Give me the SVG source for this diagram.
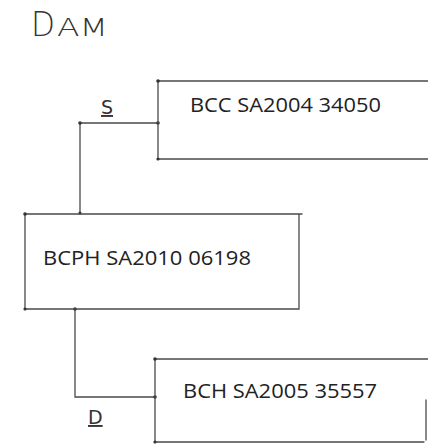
<svg xmlns="http://www.w3.org/2000/svg" width="428" height="446" viewBox="0 0 428 446">
<style>
.ln{fill:none;stroke:#4a4a4a;stroke-width:1.3;stroke-linecap:round}
.lbl{font-family:"Open Sans","Liberation Sans",Arial,sans-serif;font-size:20.5px;fill:#222}
.hand{font-family:"DejaVu Sans","Liberation Sans",sans-serif;fill:#333}
.dot{fill:#333}
</style>
<rect width="428" height="446" fill="#fff"/>
<g id="title">
<text class="hand" x="31" y="36" font-size="34" font-weight="300" textLength="24" lengthAdjust="spacingAndGlyphs">D</text>
<text class="hand" x="57" y="36" font-size="24" font-weight="300" textLength="51" lengthAdjust="spacingAndGlyphs">AM</text>
</g>
<g id="connectors">
<path class="ln" d="M158 123 H80 V213"/>
<path class="ln" d="M75 309 V397 H155"/>
<text class="hand" x="101" y="114" font-size="19" text-decoration="underline">S</text>
<text class="hand" x="88" y="424" font-size="19" text-decoration="underline">D</text>
<circle class="dot" cx="80" cy="123" r="1.8"/>
<circle class="dot" cx="158" cy="123" r="1.8"/>
<circle class="dot" cx="80" cy="213" r="1.6"/>
<circle class="dot" cx="75" cy="309" r="1.8"/>
<circle class="dot" cx="155" cy="397" r="1.8"/>
</g>
<g id="bcc">
<path class="ln" d="M428 81 H158 V159 H428"/>
<circle class="dot" cx="158" cy="81" r="1.8"/>
<circle class="dot" cx="158" cy="159" r="1.6"/>
<text class="lbl" x="190" y="112" textLength="191" lengthAdjust="spacingAndGlyphs">BCC SA2004 34050</text>
</g>
<g id="bcph">
<path class="ln" d="M302 214 H25 V309 H299 V214"/>
<circle class="dot" cx="25" cy="214" r="1.8"/>
<circle class="dot" cx="25" cy="309" r="1.6"/>
<text class="lbl" x="43" y="265" textLength="208" lengthAdjust="spacingAndGlyphs">BCPH SA2010 06198</text>
</g>
<g id="bch">
<path class="ln" d="M428 359 H155 V442 H424"/>
<path class="ln" d="M426 400 V440" stroke="#999" stroke-width="1"/>
<circle class="dot" cx="155" cy="359" r="1.8"/>
<circle class="dot" cx="155" cy="442" r="1.6"/>
<text class="lbl" x="183" y="398" textLength="194" lengthAdjust="spacingAndGlyphs">BCH SA2005 35557</text>
</g>
</svg>
